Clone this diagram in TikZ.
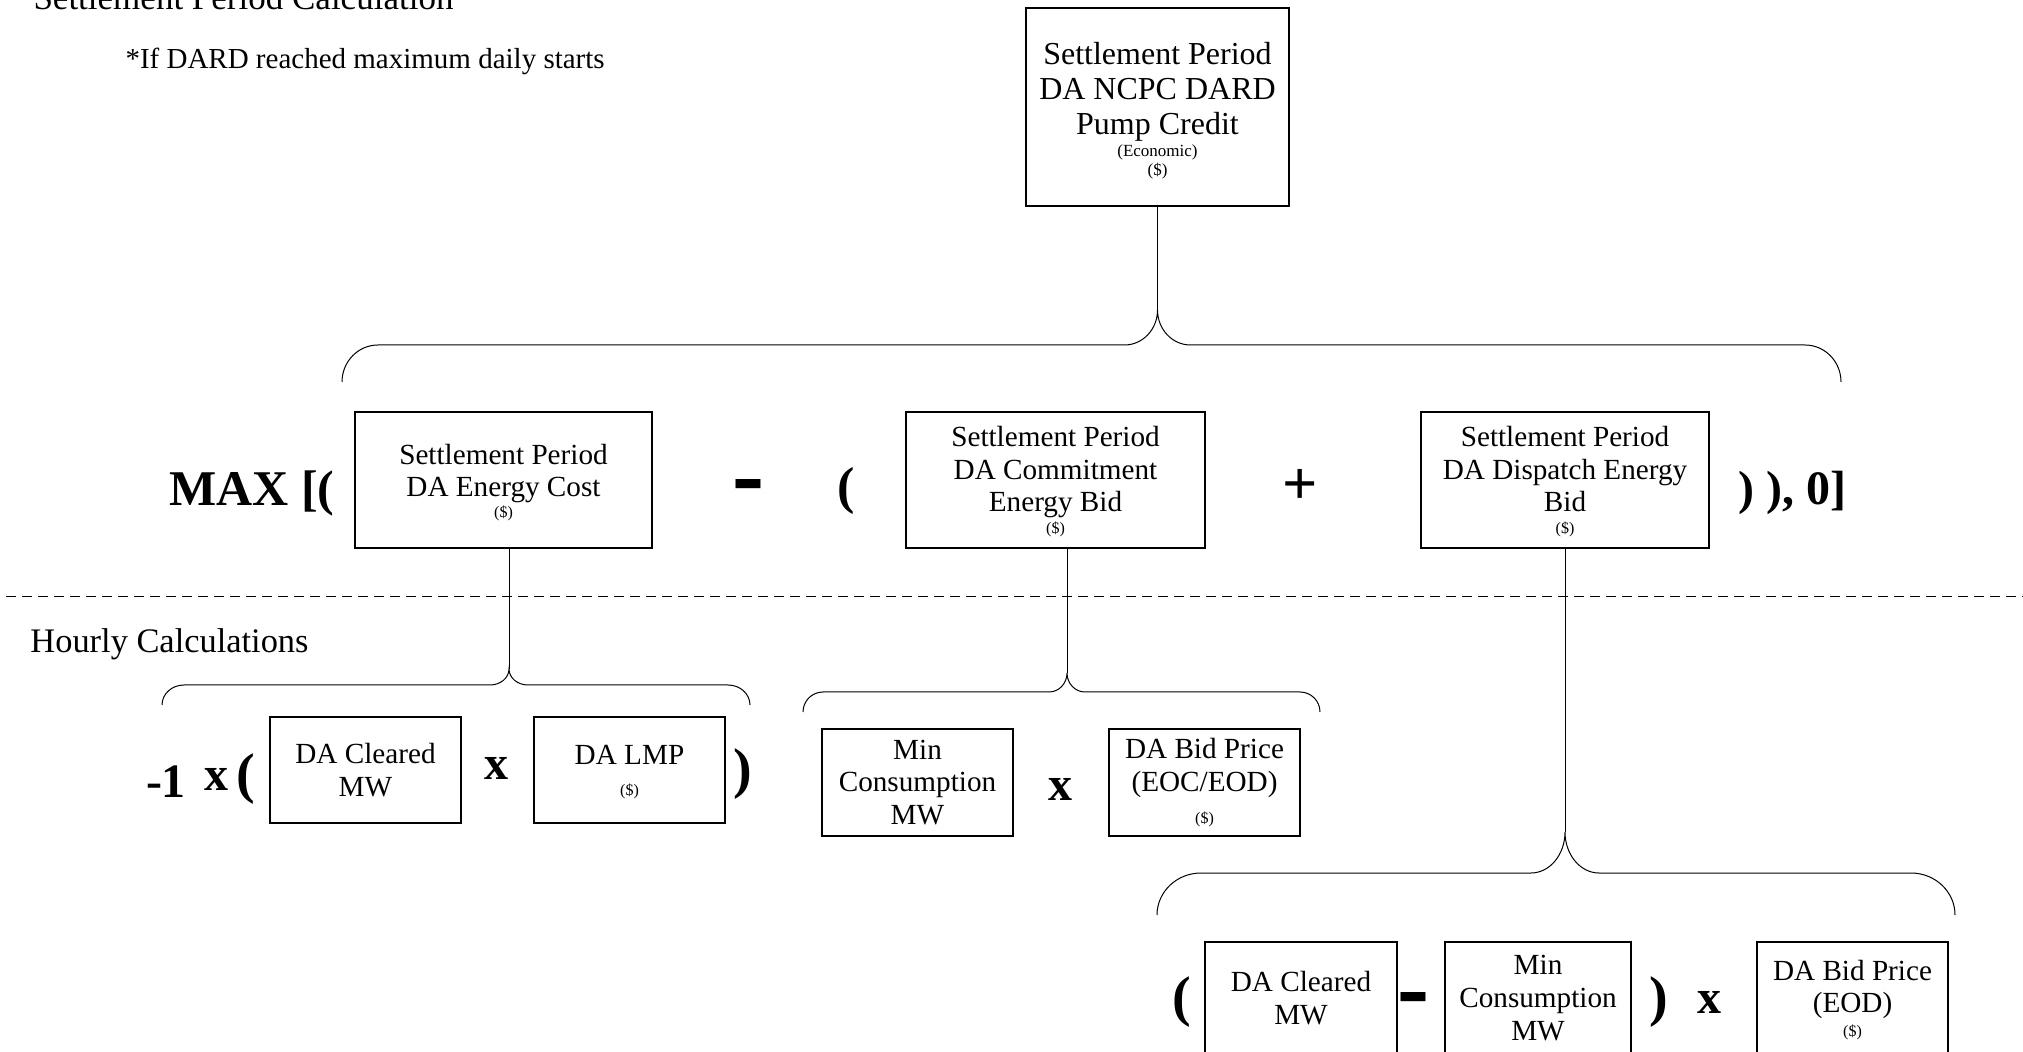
\documentclass[tikz,border=0pt]{standalone}
\usepackage{fontspec}
\setmainfont{Liberation Serif}

\newcommand{\usd}{{\fontsize{8}{9}\selectfont (\$)}}
\newcommand{\thickminus}{\scalebox{1.6}[1.8]{-}}
\newcommand{\topstrut}[1]{\rule{0pt}{#1}}
% tip x, tip y, left x, right x, bar y, end y, corner width, tip width
\newcommand{\curlybrace}[8]{%
  \pgfmathsetmacro\dropY{0.552*(#6-#5)}\pgfmathsetmacro\cornX{0.552*#7}%
  \pgfmathsetmacro\tipY{0.552*(#5-#2)}\pgfmathsetmacro\tipX{0.552*#8}%
  \draw (#3,#6) .. controls (#3,#6-\dropY) and (#3+#7-\cornX,#5) .. (#3+#7,#5)
    -- (#1-#8,#5) .. controls (#1-#8+\tipX,#5) and (#1,#2+\tipY) .. (#1,#2)
    .. controls (#1,#2+\tipY) and (#1+#8-\tipX,#5) .. (#1+#8,#5)
    -- (#4-#7,#5) .. controls (#4-#7+\cornX,#5) and (#4,#6-\dropY) .. (#4,#6);}

\tikzset{
  calcbox/.style={draw,line width=0.75pt,align=center,inner sep=0pt,
    font=\fontsize{14.6}{16.3}\selectfont},
  op/.style={anchor=base,font=\bfseries\fontsize{24}{24}\selectfont},
  bigop/.style={anchor=base,font=\bfseries\fontsize{28}{28}\selectfont},
  headtext/.style={anchor=base west,inner sep=0pt},
}

\begin{document}
\begin{tikzpicture}[x=0.5pt,y=-0.5pt,line width=0.5pt]
\useasboundingbox (0,0) rectangle (2023,1052);
\clip (0,0) rectangle (2023,1052);

\node[headtext,font=\fontsize{17.5}{21}\selectfont] (title) at (33,10) {Settlement Period Calculation};
\node[headtext,font=\fontsize{14.5}{17}\selectfont] (note) at (125,69) {*If DARD reached maximum daily starts};
\node[headtext,font=\fontsize{17.2}{21}\selectfont] (hourly) at (30,653) {Hourly Calculations};

% settlement period row
\node[calcbox,minimum width=131.5pt,minimum height=99pt,font=\fontsize{16}{17.5}\selectfont] (credit) at (1157.5,107)
  {\topstrut{15pt}Settlement Period\\DA NCPC DARD\\Pump Credit\\[-6.5pt]{\fontsize{8.5}{9.5}\selectfont (Economic)}\\[-8pt]{\fontsize{8.5}{9.5}\selectfont (\$)}};

\node[op,font=\bfseries\fontsize{25}{25}\selectfont] (maxOpen) at (252,506) {MAX [(};
\node[calcbox,minimum width=148.5pt,minimum height=68pt] (energyCost) at (503.5,480)
  {\topstrut{12.6pt}Settlement Period\\DA Energy Cost\\[-5.8pt]\usd};
\node[bigop,font=\bfseries\fontsize{30}{30}\selectfont] (minusA) at (748,510) {\thickminus};
\node[op,font=\bfseries\fontsize{26}{26}\selectfont] (parenA) at (846,504) {(};
\node[calcbox,minimum width=149.5pt,minimum height=68pt] (commitBid) at (1055.5,480)
  {\topstrut{12pt}Settlement Period\\DA Commitment\\Energy Bid\\[-5.3pt]\usd};
\node[op,font=\bfseries\fontsize{31}{31}\selectfont] (plusA) at (1300,505) {+};
\node[calcbox,minimum width=144pt,minimum height=68pt] (dispatchBid) at (1565,480)
  {\topstrut{12pt}Settlement Period\\DA Dispatch Energy\\Bid\\[-5.3pt]\usd};
\node[headtext,font=\bfseries\fontsize{24}{24}\selectfont] (closeAll) at (1738,505) {) ), 0]};

\draw[dash pattern=on 5pt off 3pt] (6,597) -- (2023,597);

% hourly row
\node[op] (negOne) at (166,797) {-1};
\node[op] (timesA) at (216,791) {x};
\node[bigop] (parenB) at (246,792) {(};
\node[calcbox,minimum width=95.5pt,minimum height=53pt] (clearedA) at (365.5,770) {DA Cleared\\MW};
\node[op] (timesB) at (496,779) {x};
\node[calcbox,minimum width=95.5pt,minimum height=53pt] (lmpA) at (629.5,770) {\topstrut{12pt}DA LMP\\[-1pt]\usd};
\node[bigop] (parenC) at (743,787) {)};

\node[calcbox,minimum width=95.5pt,minimum height=53.5pt] (minConsA) at (917.5,782.5) {Min\\Consumption\\MW};
\node[op] (timesC) at (1060,800) {x};
\node[calcbox,minimum width=95.5pt,minimum height=53.5pt] (bidPriceA) at (1204.5,782.5) {DA Bid Price\\(EOC/EOD)\\[-0.5pt]\usd};

\node[bigop] (parenD) at (1182,1015) {(};
\node[calcbox,minimum width=96pt,minimum height=56pt] (clearedB) at (1301,998) {DA Cleared\\MW};
\node[bigop,font=\bfseries\fontsize{30}{30}\selectfont] (minusB) at (1413,1022) {\thickminus};
\node[calcbox,minimum width=93pt,minimum height=56pt] (minConsB) at (1538,998) {Min\\Consumption\\MW};
\node[bigop] (parenE) at (1659,1015) {)};
\node[op] (timesD) at (1709,1013) {x};
\node[calcbox,minimum width=95.5pt,minimum height=56pt] (bidPriceB) at (1852.5,998) {\topstrut{12pt}DA Bid Price\\(EOD)\\[-4.5pt]\usd};

% connectors and braces
\coordinate (creditTip) at (1157.5,310);
\coordinate (costTip) at (509,669);
\coordinate (commitTip) at (1067,673);
\coordinate (dispatchTip) at (1565,832);

\draw (credit.south) -- (creditTip);
\draw (energyCost.south -| costTip) -- (costTip);
\draw (commitBid.south -| commitTip) -- (commitTip);
\draw (dispatchBid.south) -- (dispatchTip);

\curlybrace{1157.5}{310}{342}{1841}{345}{382}{36}{33}
\curlybrace{509}{669}{162}{750}{685}{705}{22}{19}
\curlybrace{1067}{673}{803}{1320}{692}{712}{20}{18}
\curlybrace{1565}{832}{1157}{1955}{873}{915}{44}{34}
\end{tikzpicture}
\end{document}
